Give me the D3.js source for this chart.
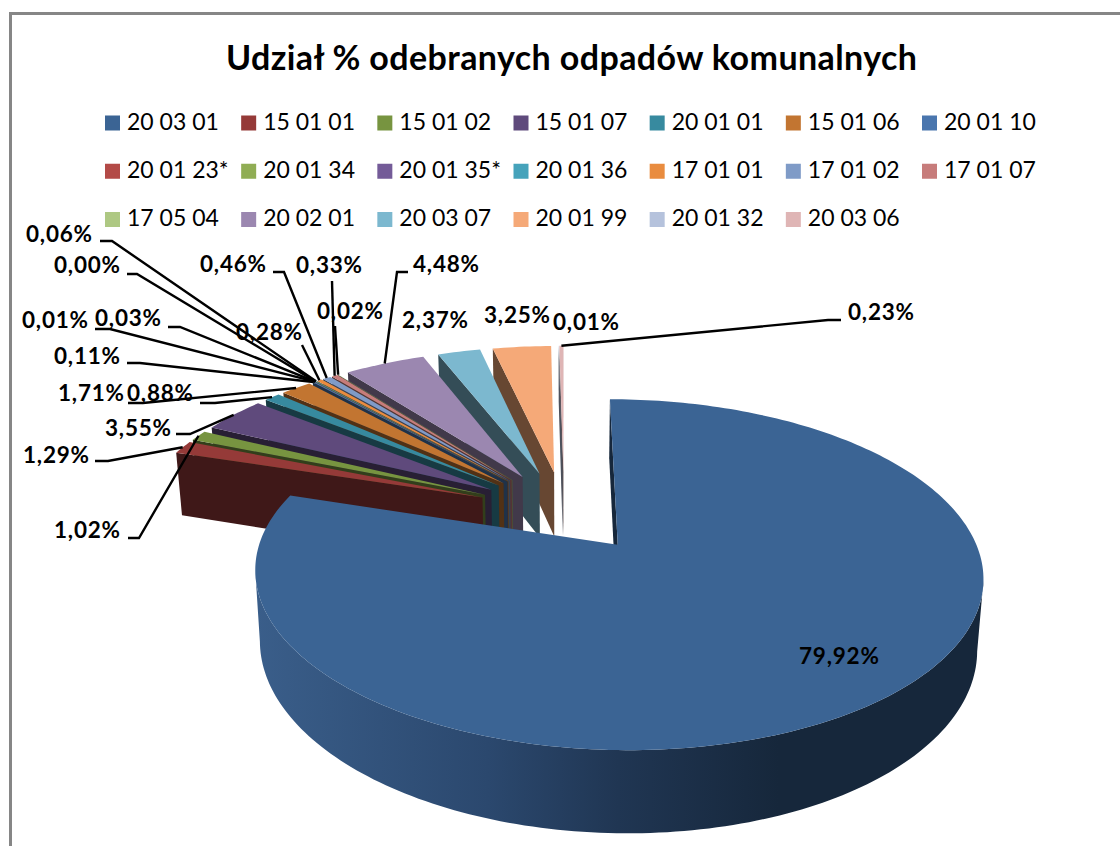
<html>
  <head>
    <meta charset="utf-8">
    <script src="https://cdn.jsdelivr.net/npm/d3@7"></script>
    <style>
      html, body { margin: 0; padding: 0; background: #fff; overflow: hidden; }
      text { font-family: Lato, "Noto Sans", sans-serif; fill: #000; }
    </style>
  </head>
  <body>
    <script>
      const chartTitle = "Udział % odebranych odpadów komunalnych";

      const categories = [
        "20 03 01", "15 01 01", "15 01 02", "15 01 07", "20 01 01", "15 01 06", "20 01 10",
        "20 01 23*", "20 01 34", "20 01 35*", "20 01 36", "17 01 01", "17 01 02", "17 01 07",
        "17 05 04", "20 02 01", "20 03 07", "20 01 99", "20 01 32", "20 03 06"
      ];
      const shares = [
        79.92, 1.29, 1.02, 3.55, 0.88, 1.71, 0.11,
        0.01, 0.03, 0.00, 0.06, 0.28, 0.46, 0.33,
        0.02, 4.48, 2.37, 3.25, 0.01, 0.23
      ];
      const sliceColors = [
        "#3b6494", "#953a38", "#779440", "#5f4a7c", "#378a9f", "#c27531", "#4a76ae",
        "#b34a47", "#90ad54", "#745b98", "#46a3bb", "#e98c3f", "#7f9bc7", "#c77c7b",
        "#aec883", "#9b87b0", "#7cb8cf", "#f5a978", "#b5c2dc", "#dfb5b5"
      ];

      // where each data label sits, and the bend of its leader (leader ends on the slice rim)
      const labelSpots = [
        { x: 799, y: 657, bend: [] },
        { x: 23, y: 456, bend: [[95, 461], [108, 461]] },
        { x: 54, y: 531, bend: [[128, 538], [139, 538]] },
        { x: 105, y: 429, bend: [[176, 434], [190, 434]] },
        { x: 127, y: 394, bend: [[200, 403], [215, 403]] },
        { x: 58, y: 394, bend: [[128, 403], [143, 403]] },
        { x: 54, y: 357, bend: [[127, 363], [140, 363]] },
        { x: 22, y: 321, bend: [[95, 329], [110, 329]] },
        { x: 95, y: 319, bend: [[168, 327], [180, 327]] },
        { x: 54, y: 266, bend: [[127, 274], [137, 274]] },
        { x: 26, y: 235, bend: [[100, 241], [112, 241]] },
        { x: 236, y: 333, bend: [[302, 345]] },
        { x: 200, y: 265, bend: [[273, 272], [284, 272]] },
        { x: 296, y: 266, bend: [[332, 281]] },
        { x: 317, y: 312, bend: [[335, 326]] },
        { x: 413, y: 265, bend: [[408, 272], [397, 272]] },
        { x: 402, y: 321, bend: [] },
        { x: 484, y: 316, bend: [] },
        { x: 553, y: 323, bend: [] },
        { x: 848, y: 313, bend: [[841, 320], [828, 320]] }
      ];

      const width = 1120, height = 846;

      const svg = d3.select("body").append("svg")
        .attr("width", width)
        .attr("height", height);

      // frame, open on the right and bottom like the cropped original
      svg.append("path")
        .attr("d", "M10.5,846V13.5H1120")
        .attr("fill", "none")
        .attr("stroke", "#868686")
        .attr("stroke-width", 3);

      svg.append("text")
        .attr("x", 226).attr("y", 61)
        .attr("dominant-baseline", "middle")
        .attr("font-size", 34)
        .attr("font-weight", 700)
        .attr("textLength", 691)
        .text(chartTitle);

      // legend: 7 columns, 3 rows
      const legendX = d3.scaleLinear().domain([0, 6]).range([105, 922]);
      const legendY = d3.scaleLinear().domain([0, 2]).range([123, 219.5]);

      const legend = svg.append("g").selectAll("g")
        .data(categories)
        .join("g")
        .attr("transform", (d, i) => `translate(${legendX(i % 7)},${legendY(Math.floor(i / 7))})`);

      legend.append("rect")
        .attr("y", -7.5)
        .attr("width", 15).attr("height", 15)
        .attr("fill", (d, i) => sliceColors[i]);

      legend.append("text")
        .attr("x", 22).attr("y", 1)
        .attr("dominant-baseline", "middle")
        .attr("font-size", 23)
        .text(d => d);

      // ---- exploded 3D pie ----
      const pie = d3.pie().sort(null).value(d => d);
      const arcs = pie(shares);

      const cx = 564, cy = 511;
      const radiusX = d3.scaleLinear().domain([0, 1]).range([0, 346.5]);
      const radiusY = d3.scaleLinear().domain([0, 1]).range([0, 159]);
      const tilt = 0.165;       // perspective strength
      const explode = 0.254;    // slice offset, in pie radii
      const depth = 66.6;       // wall height
      const shrink = 0.985;     // walls narrow a little going down

      function project(wx, wy, low) {
        const s = 1 / (1 - tilt * wy);
        const x = radiusX(wx) * s, y = radiusY(wy) * s;
        return low
          ? [cx + x * shrink, cy + y + depth * s]
          : [cx + x, cy + y];
      }

      // outline of one slice, in pie coordinates: apex then the rim, clockwise
      function outline(a) {
        const mid = (a.startAngle + a.endAngle) / 2;
        const ox = explode * Math.sin(mid), oy = -explode * Math.cos(mid);
        const steps = Math.max(1, Math.ceil((a.endAngle - a.startAngle) / 0.02));
        const rim = d3.range(steps + 1).map(i => {
          const t = a.startAngle + (a.endAngle - a.startAngle) * i / steps;
          return [ox + Math.sin(t), oy - Math.cos(t)];
        });
        return [[ox, oy], ...rim];
      }

      function rimPoint(a) {
        const mid = (a.startAngle + a.endAngle) / 2;
        const r = 1 + explode;
        return project(r * Math.sin(mid), -r * Math.cos(mid), false);
      }

      const line = d3.line();

      const wallGradient = svg.append("defs").append("linearGradient")
        .attr("id", "main-wall")
        .attr("gradientUnits", "userSpaceOnUse")
        .attr("x1", 255).attr("x2", 982).attr("y1", 0).attr("y2", 0);
      [[0, "#3a5e8a"], [0.32, "#2b486e"], [0.5, "#203653"], [0.72, "#16273b"], [1, "#16273b"]]
        .forEach(([o, c]) => wallGradient.append("stop").attr("offset", o).attr("stop-color", c));

      // painter's order: furthest slice first, big slice last
      const order = d3.range(arcs.length)
        .filter(i => shares[i] > 0)
        .sort((a, b) => {
          const ma = (arcs[a].startAngle + arcs[a].endAngle) / 2;
          const mb = (arcs[b].startAngle + arcs[b].endAngle) / 2;
          return d3.descending(Math.cos(ma), Math.cos(mb));
        });

      const pieGroup = svg.append("g");

      order.forEach(i => {
        const pts = outline(arcs[i]);
        const wallColor = d3.interpolateRgb(sliceColors[i], "#000")(0.58);
        const g = pieGroup.append("g");

        // walls only show under edges running right to left; join the neighbours into one shape
        let run = [];
        const flush = isRim => {
          if (run.length > 1) {
            const fill = i === 0 ? (isRim ? "url(#main-wall)" : "#16273b") : wallColor;
            const top = run.map(p => project(p[0], p[1], false));
            const low = run.map(p => project(p[0], p[1], true)).reverse();
            g.append("path")
              .attr("d", line([...top, ...low]) + "Z")
              .attr("fill", fill);
          }
          run = [];
        };

        pts.forEach((p, j) => {
          const q = pts[(j + 1) % pts.length];
          const isRim = j > 0 && j < pts.length - 1;
          const visible = project(q[0], q[1], false)[0] < project(p[0], p[1], false)[0];
          if (!isRim) {
            flush(true);
            run = visible ? [p, q] : [];
            flush(false);
          } else if (visible) {
            if (!run.length) run.push(p);
            run.push(q);
          } else {
            flush(true);
          }
        });

        g.append("path")
          .attr("d", line(pts.map(p => project(p[0], p[1], false))) + "Z")
          .attr("fill", sliceColors[i]);
      });

      // data labels with leaders
      const labelFormat = v => v.toFixed(2).replace(".", ",") + "%";

      svg.append("g").selectAll("path")
        .data(labelSpots.map((s, i) => ({ s, i })).filter(d => d.s.bend.length))
        .join("path")
        .attr("d", d => line([...d.s.bend, rimPoint(arcs[d.i])]))
        .attr("fill", "none")
        .attr("stroke", "#000")
        .attr("stroke-width", 2.4);

      svg.append("g").selectAll("text")
        .data(shares)
        .join("text")
        .attr("x", (d, i) => labelSpots[i].x)
        .attr("y", (d, i) => labelSpots[i].y + 1.5)
        .attr("dominant-baseline", "middle")
        .attr("font-size", 22.5)
        .attr("font-weight", 700)
        .attr("letter-spacing", 0.8)
        .text(labelFormat);
    </script>
  </body>
</html>
